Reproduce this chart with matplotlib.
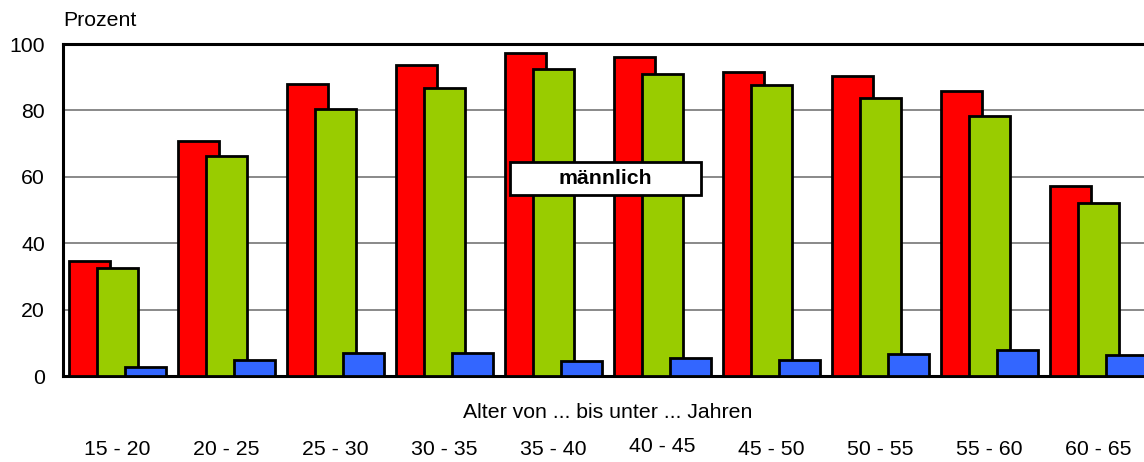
import numpy as np
import matplotlib
matplotlib.use("Agg")
import matplotlib.pyplot as plt
from matplotlib.patches import Rectangle

plt.rcParams["font.family"] = ["Liberation Sans", "DejaVu Sans"]

# age groups and the three series (percent)
age_groups = ["15 - 20", "20 - 25", "25 - 30", "30 - 35", "35 - 40",
              "40 - 45", "45 - 50", "50 - 55", "55 - 60", "60 - 65"]
red_values = [34.6, 70.8, 87.9, 93.7, 97.4, 96.0, 91.5, 90.4, 85.9, 57.3]
green_values = [32.4, 66.3, 80.4, 86.7, 92.4, 91.0, 87.7, 83.6, 78.3, 52.0]
blue_values = [2.8, 4.8, 6.8, 6.8, 4.6, 5.5, 4.8, 6.5, 7.8, 6.4]
y_ticks = [0, 20, 40, 60, 80, 100]

FS = 15.3


def main() -> None:
    fig = plt.figure(figsize=(11.44, 4.62), dpi=100)
    W, H = 1144, 462
    # right edge of the plot area runs past the image, as in the original
    ax = fig.add_axes([63 / W, 86 / H, 1090 / W, 332 / H])

    x = np.arange(len(age_groups))
    step = 0.257
    width = 0.376
    series = [(red_values, "#FF0000"), (green_values, "#99CC00"),
              (blue_values, "#3366FF")]
    for i, (vals, col) in enumerate(series):
        ax.bar(x + (i - 1) * step, vals, width, color=col,
               edgecolor="black", linewidth=2.0, zorder=3 + i)

    ax.set_xlim(-0.5, len(age_groups) - 0.5)
    ax.set_ylim(0, 100)
    ax.set_yticks(y_ticks)
    ax.set_yticklabels([str(v) for v in y_ticks], fontsize=FS)
    ax.tick_params(axis="y", length=0, pad=13)
    ax.set_xticks([])
    ax.yaxis.grid(True, color="#808080", linewidth=1.3, zorder=0)
    ax.set_axisbelow(True)

    for side in ["left", "bottom", "top"]:
        ax.spines[side].set_color("black")
        ax.spines[side].set_linewidth(2.2)
    ax.spines["right"].set_visible(False)

    # category labels below the axis; "40 - 45" sits a little higher
    trans = ax.get_xaxis_transform()
    for i, lab in enumerate(age_groups):
        yy = -0.213 if lab == "40 - 45" else -0.222
        ax.text(i, yy, lab, transform=trans, ha="center", va="center",
                fontsize=FS)

    ax.text(0.5, -0.11, "Alter von ... bis unter ... Jahren",
            transform=ax.transAxes, ha="center", va="center", fontsize=FS)
    fig.text(63 / W, 1 - 20 / H, "Prozent", ha="left", va="center",
             fontsize=FS)

    # label box
    ax.add_patch(Rectangle((3.60, 54.6), 1.75, 9.9, facecolor="white",
                           edgecolor="black", linewidth=2.0, zorder=10))
    ax.text(4.475, 59.5, "männlich", ha="center", va="center",
            fontsize=FS, fontweight="bold", zorder=11)

    fig.savefig("out.png", dpi=100)


if __name__ == "__main__":
    main()
